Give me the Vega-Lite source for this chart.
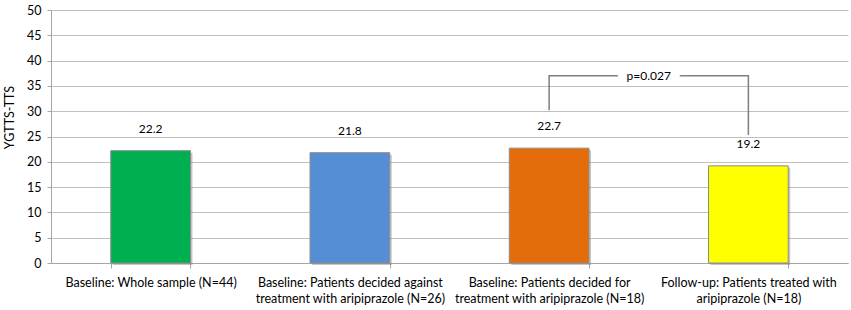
{
  "$schema": "https://vega.github.io/schema/vega-lite/v6.json",
  "width": 797,
  "height": 253,
  "autosize": {"type": "none"},
  "padding": {"left": 51, "top": 10, "right": 3, "bottom": 47},
  "background": "white",
  "config": {
    "view": {"stroke": null},
    "font": "Lato",
    "axis": {"labelFont": "Lato", "titleFont": "Lato", "labelColor": "#000000", "titleColor": "#000000"}
  },
  "datasets": {
    "bars": [
      {"cat": "Baseline: Whole sample (N=44)", "value": 22.2, "color": "#00B050"},
      {"cat": "Baseline: Patients decided against|treatment with aripiprazole (N=26)", "value": 21.8, "color": "#558ED5"},
      {"cat": "Baseline: Patients decided for|treatment with aripiprazole (N=18)", "value": 22.7, "color": "#E46C0A"},
      {"cat": "Follow-up: Patients treated with|aripiprazole (N=18)", "value": 19.2, "color": "#FFFF00"}
    ],
    "bracket": [
      {"cat": "Baseline: Patients decided for|treatment with aripiprazole (N=18)", "value": 30.2, "o": 1},
      {"cat": "Baseline: Patients decided for|treatment with aripiprazole (N=18)", "value": 37.0, "o": 2},
      {"cat": "Follow-up: Patients treated with|aripiprazole (N=18)", "value": 37.0, "o": 3},
      {"cat": "Follow-up: Patients treated with|aripiprazole (N=18)", "value": 25.3, "o": 4}
    ],
    "ptext": [
      {"cat": "Follow-up: Patients treated with|aripiprazole (N=18)", "value": 37.0, "label": "p=0.027", "mask": "-n=0.027-"}
    ]
  },
  "encoding": {
    "x": {
      "field": "cat",
      "type": "nominal",
      "sort": null,
      "scale": {"paddingInner": 0.6, "paddingOuter": 0.3},
      "axis": {
        "title": null,
        "labelAngle": 0,
        "labelExpr": "isValid(datum.value) ? split(datum.value, '|') : ''",
        "labelLimit": 0,
        "labelFontSize": 12.5,
        "labelLineHeight": 16,
        "labelPadding": 8,
        "labelBaseline": "top",
        "tickBand": "extent",
        "tickColor": "#a6a6a6",
        "tickSize": 5,
        "domainColor": "#a6a6a6",
        "grid": false
      }
    },
    "y": {
      "field": "value",
      "type": "quantitative",
      "scale": {"domain": [0, 50]},
      "axis": {
        "title": "YGTTS-TTS",
        "titleFontSize": 12.5,
        "titleFontWeight": "normal",
        "titlePadding": 10,
        "titleY": 107,
        "values": [0, 5, 10, 15, 20, 25, 30, 35, 40, 45, 50],
        "labelFontSize": 12.5,
        "labelPadding": 6,
        "tickSize": 4,
        "tickColor": "#a6a6a6",
        "domainColor": "#a6a6a6",
        "gridColor": "#c0c0c0",
        "gridWidth": 1
      }
    }
  },
  "layer": [
    {
      "data": {"name": "bars"},
      "mark": {"type": "bar", "color": "#7f7f7f", "opacity": 0.45, "xOffset": 2, "yOffset": 2}
    },
    {
      "data": {"name": "bars"},
      "mark": {"type": "bar", "stroke": "#8c8c8c", "strokeWidth": 1},
      "encoding": {
        "color": {"field": "color", "type": "nominal", "scale": null, "legend": null}
      }
    },
    {
      "data": {"name": "bars"},
      "mark": {"type": "text", "baseline": "middle", "dy": -22, "fontSize": 12, "color": "#000000"},
      "encoding": {
        "text": {"field": "value", "type": "quantitative", "format": ".1f"}
      }
    },
    {
      "data": {"name": "bracket"},
      "mark": {"type": "line", "color": "#7f7f7f", "strokeWidth": 1.5},
      "encoding": {
        "order": {"field": "o", "type": "quantitative"}
      }
    },
    {
      "data": {"name": "ptext"},
      "mark": {"type": "text", "baseline": "middle", "fontSize": 12, "color": "white", "stroke": "white", "strokeWidth": 10},
      "encoding": {
        "x": {"field": "cat", "type": "nominal", "bandPosition": -0.75},
        "text": {"field": "mask"}
      }
    },
    {
      "data": {"name": "ptext"},
      "mark": {"type": "text", "baseline": "middle", "fontSize": 12, "color": "#000000"},
      "encoding": {
        "x": {"field": "cat", "type": "nominal", "bandPosition": -0.75},
        "text": {"field": "label"}
      }
    }
  ]
}
